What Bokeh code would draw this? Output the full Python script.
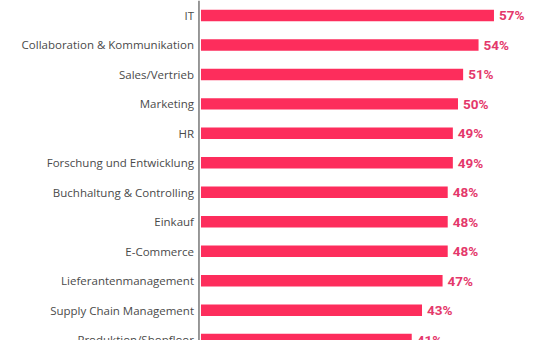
from bokeh.plotting import figure
from bokeh.models import Range1d, ColumnDataSource, Span
from bokeh.core.properties import value
from bokeh.embed import file_html
from bokeh.resources import INLINE

categories = [
    "IT",
    "Collaboration & Kommunikation",
    "Sales/Vertrieb",
    "Marketing",
    "HR",
    "Forschung und Entwicklung",
    "Buchhaltung & Controlling",
    "Einkauf",
    "E-Commerce",
    "Lieferantenmanagement",
    "Supply Chain Management",
    "Produktion/Shopfloor",
]
values = [57, 54, 51, 50, 49, 49, 48, 48, 48, 47, 43, 41]
value_labels = [f"{v}%" for v in values]

ys = [-i for i in range(len(categories))]

src = ColumnDataSource(dict(y=ys, v=values, lab=value_labels, cat=categories))

p = figure(
    width=542, height=340,
    output_backend="svg", toolbar_location=None,
    x_range=Range1d(-39.0, 66.44),
    y_range=Range1d(-11.03, 0.508),
    min_border_left=0, min_border_right=0, min_border_top=0, min_border_bottom=0,
    x_axis_location=None, y_axis_location=None,
)
p.outline_line_color = None
p.xgrid.visible = False
p.ygrid.visible = False
p.background_fill_color = "white"
p.border_fill_color = "white"

# vertical axis line
p.add_layout(Span(location=-0.39, dimension="height",
                  line_color="#777777", line_width=1.5))

p.hbar(y="y", left=0, right="v", height=0.39, source=src,
       fill_color="#fd2d5c", line_color=None)

p.text(x="v", y="y", text="lab", source=src, x_offset=5,
       text_baseline="middle", text_align="left",
       text_font=value("Roboto"), text_font_style="bold",
       text_font_size="13.5px", text_color="#e4386b")

p.text(x=0, y="y", text="cat", source=src, x_offset=-7,
       text_baseline="middle", text_align="right",
       text_font=value("Open Sans"), text_font_size="11.5px",
       text_color="#4a4a4a")

open("out.html", "w").write(file_html(p, INLINE))
